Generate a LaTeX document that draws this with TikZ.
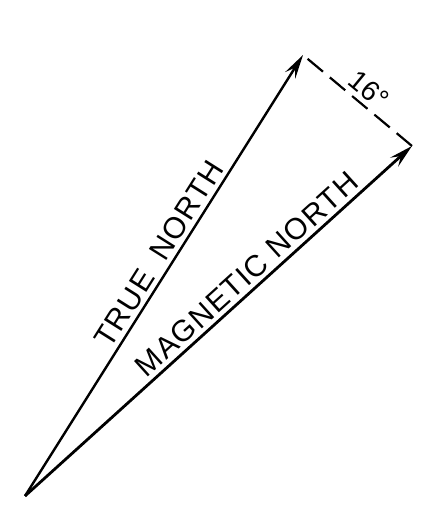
\documentclass[tikz,border=0pt]{standalone}
\usepackage{fontspec}
\setmainfont{Liberation Sans}
\newfontfamily\lettering[LetterSpace=4]{Liberation Sans}
\usetikzlibrary{arrows.meta,calc}
\begin{document}
\begin{tikzpicture}[x=1pt,y=1pt,
  vec/.style={line width=2.4pt,-{Stealth[length=24pt,width=12pt,inset=9pt]}},
  lbl/.style={font=\lettering\fontsize{30}{30}\selectfont, inner sep=0pt},
  dimline/.style={line width=2.2pt, dash pattern=on 20pt off 9pt}]
\useasboundingbox (0,0) rectangle (426,530);
\coordinate (O) at (25,34);
\coordinate (T) at (303,475);
\coordinate (M) at (412,384);
\draw[vec] (O) -- (T);
\draw[vec, line width=2.8pt] (O) -- (M);
\draw[dimline] ($(T)!6pt!(M)$) -- (M);
\node[font=\fontsize{28}{28}\selectfont, fill=white, inner sep=4pt, rotate=-39.5] (ang) at (369,440) {16°};
\path (O) -- (T) node[lbl, pos=0.53, sloped, above=5pt] (tn) {TRUE\hspace{18pt}NORTH};
\path (O) -- (M) node[lbl, pos=0.6, sloped, above=5pt] (mn) {MAGNETIC\hspace{10pt}NORTH};
\end{tikzpicture}
\end{document}
